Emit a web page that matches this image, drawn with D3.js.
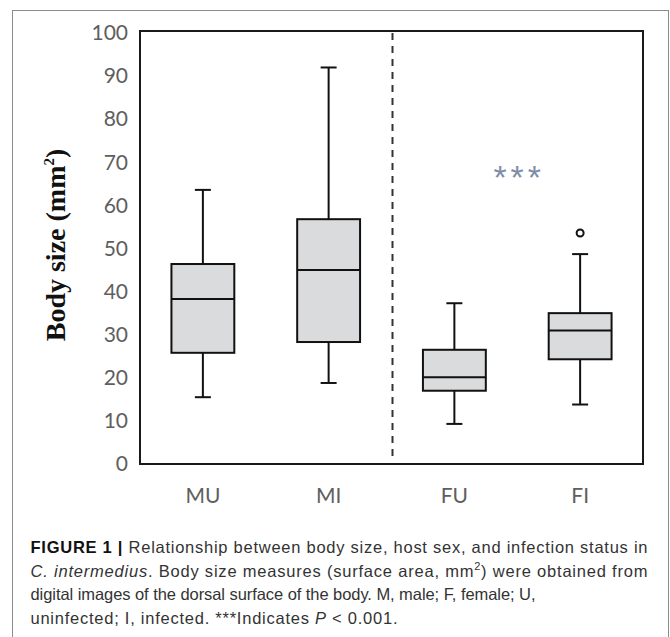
<!DOCTYPE html>
<html>
<head>
<meta charset="utf-8">
<script src="https://cdn.jsdelivr.net/npm/d3@7"></script>
<style>
  body { margin: 0; background: #fff; }
</style>
</head>
<body>
<svg id="chart" width="670" height="637"></svg>
<script>
    // values (mm^2)
    const categories = ["MU", "MI", "FU", "FI"];
    const whiskerLow = [15.5, 18.8, 9.3, 13.8];
    const q1 = [25.8, 28.3, 17.0, 24.3];
    const median = [38.3, 45.0, 20.1, 31.0];
    const q3 = [46.4, 56.8, 26.5, 35.0];
    const whiskerHigh = [63.6, 92.0, 37.3, 48.7];
    const outlierCats = ["FI"];
    const outlierValues = [53.6];
    const yTicks = [0, 10, 20, 30, 40, 50, 60, 70, 80, 90, 100];
    const signif = { label: "***", between: ["FU", "FI"], value: 68.5 };

    const svg = d3.select("#chart");
    const width = +svg.attr("width");
    const height = +svg.attr("height");
    const plot = { left: 140, right: 643, top: 31, bottom: 464 };

    // outer figure frame
    svg.append("rect")
        .attr("x", 12.5).attr("y", 10.5)
        .attr("width", 656).attr("height", height)
        .attr("fill", "none").attr("stroke", "#8c8c8c").attr("stroke-width", 1);

    const x = d3.scaleBand().domain(categories).range([plot.left, plot.right]);
    const y = d3.scaleLinear().domain([0, 100]).range([plot.bottom, 33]);

    // plot area border
    svg.append("rect")
        .attr("x", plot.left).attr("y", plot.top)
        .attr("width", plot.right - plot.left).attr("height", plot.bottom - plot.top)
        .attr("fill", "none").attr("stroke", "#1a1a1a").attr("stroke-width", 2);

    const yAxis = svg.append("g")
        .attr("transform", "translate(" + plot.left + ",0)")
        .call(d3.axisLeft(y).tickValues(yTicks).tickSize(0).tickPadding(12));
    yAxis.select(".domain").remove();
    yAxis.selectAll("text")
        .attr("font-family", "Lato, sans-serif").attr("font-size", 21).attr("fill", "#5e5e5e");

    const xAxis = svg.append("g")
        .attr("transform", "translate(0," + plot.bottom + ")")
        .call(d3.axisBottom(x).tickSize(0).tickPadding(24));
    xAxis.select(".domain").remove();
    xAxis.selectAll("text")
        .attr("font-family", "Lato, sans-serif").attr("font-size", 21).attr("fill", "#5e5e5e");

    // y title
    const yTitle = svg.append("text")
        .attr("transform", "translate(65,245) rotate(-90)")
        .attr("text-anchor", "middle")
        .attr("font-family", "'Liberation Serif', 'Times New Roman', serif")
        .attr("font-weight", "bold").attr("font-size", 28).attr("fill", "#111");
    yTitle.append("tspan").text("Body size (mm");
    yTitle.append("tspan").attr("font-size", 15).attr("dy", -11).text("2");
    yTitle.append("tspan").attr("dy", 11).text(")");

    // divider between males and females
    const divX = x("FU") + 1;
    svg.append("line")
        .attr("x1", divX).attr("x2", divX)
        .attr("y1", y(100)).attr("y2", y(1.3))
        .attr("stroke", "#333").attr("stroke-width", 2)
        .attr("stroke-dasharray", "7,6");

    const boxes = categories.map((c, i) => ({
        cat: c, lo: whiskerLow[i], q1: q1[i], med: median[i], q3: q3[i], hi: whiskerHigh[i]
    }));
    const bw = x.bandwidth() * 0.5;
    const cap = 16;
    const cx = d => x(d.cat) + x.bandwidth() / 2;

    const g = svg.append("g").attr("stroke", "#111").attr("stroke-width", 2);
    const box = g.selectAll(".box").data(boxes).enter().append("g").attr("class", "box");

    box.append("line")
        .attr("x1", cx).attr("x2", cx)
        .attr("y1", d => y(d.hi)).attr("y2", d => y(d.q3));
    box.append("line")
        .attr("x1", cx).attr("x2", cx)
        .attr("y1", d => y(d.q1)).attr("y2", d => y(d.lo));
    box.append("line")
        .attr("x1", d => cx(d) - cap / 2).attr("x2", d => cx(d) + cap / 2)
        .attr("y1", d => y(d.hi)).attr("y2", d => y(d.hi));
    box.append("line")
        .attr("x1", d => cx(d) - cap / 2).attr("x2", d => cx(d) + cap / 2)
        .attr("y1", d => y(d.lo)).attr("y2", d => y(d.lo));
    box.append("rect")
        .attr("x", d => cx(d) - bw / 2).attr("width", bw)
        .attr("y", d => y(d.q3)).attr("height", d => y(d.q1) - y(d.q3))
        .attr("fill", "#dadbdc");
    box.append("line")
        .attr("x1", d => cx(d) - bw / 2).attr("x2", d => cx(d) + bw / 2)
        .attr("y1", d => y(d.med)).attr("y2", d => y(d.med));

    g.selectAll(".outlier").data(outlierValues).enter().append("circle")
        .attr("class", "outlier")
        .attr("cx", (v, i) => x(outlierCats[i]) + x.bandwidth() / 2)
        .attr("cy", v => y(v))
        .attr("r", 3.5).attr("fill", "#fff");

    // significance marker
    svg.append("text")
        .attr("x", x(signif.between[1]) + 2)
        .attr("y", y(signif.value))
        .attr("text-anchor", "middle").attr("dy", "0.6em")
        .attr("font-family", "'Liberation Sans', Arial, sans-serif")
        .attr("font-size", 34).attr("letter-spacing", 4)
        .attr("fill", "#7f8ea6")
        .text(signif.label);

    // caption
    const caption = [
        { w: 617, parts: [["FIGURE 1 | ", "b"], ["Relationship between body size, host sex, and infection status in", ""]] },
        { w: 617, parts: [["C. intermedius", "i"], [". Body size measures (surface area, mm", ""], ["2", "sup"], [") were obtained from", ""]] },
        { w: 505, parts: [["digital images of the dorsal surface of the body. M, male; F, female; U,", ""]] },
        { w: 367, parts: [["uninfected; I, infected. ***Indicates ", ""], ["P", "i"], [" < 0.001.", ""]] }
    ];
    caption.forEach((line, i) => {
        const t = svg.append("text")
            .attr("x", 30.5).attr("y", 553 + i * 23.5)
            .attr("font-family", "'Liberation Sans', Arial, sans-serif")
            .attr("font-size", 16.5).attr("fill", "#333")
            .attr("textLength", line.w).attr("lengthAdjust", "spacing");
        line.parts.forEach(p => {
            const s = t.append("tspan").text(p[0]);
            if (p[1] === "b") s.attr("font-weight", "bold").attr("fill", "#111");
            if (p[1] === "i") s.attr("font-style", "italic");
            if (p[1] === "sup") s.attr("font-size", 11).attr("dy", -7);
            if (p[1] === "" && line.parts.some(q => q[1] === "sup") && p[0].startsWith(")")) s.attr("dy", 7);
        });
    });
</script>
</body>
</html>
